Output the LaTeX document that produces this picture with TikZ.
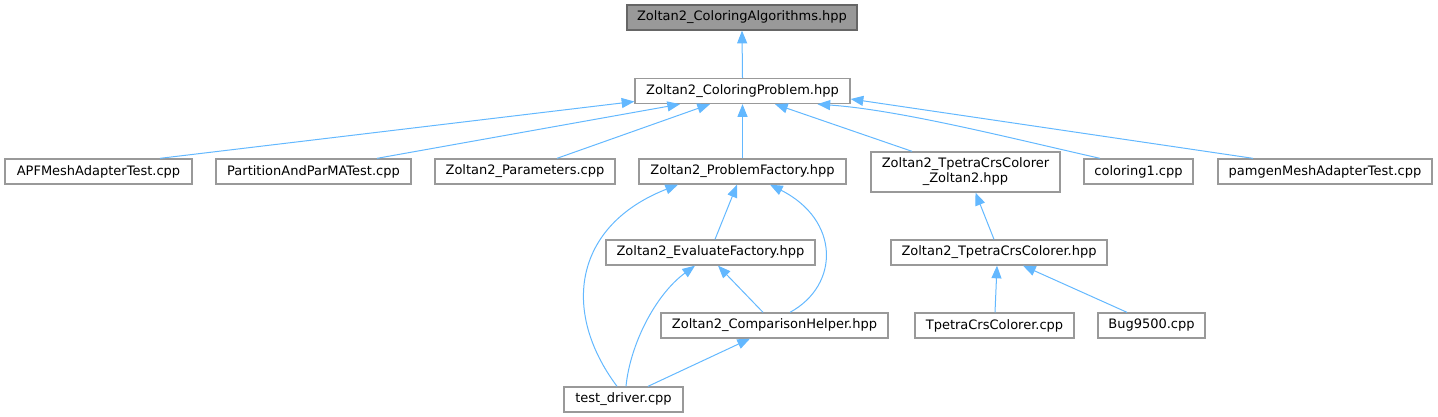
\documentclass[tikz,border=0pt]{standalone}
\usepackage{fontspec}
\setmainfont{DejaVu Sans}
\usepackage{tikz}
\usetikzlibrary{arrows.meta, calc}

\definecolor{edgeblue}{HTML}{63B8FF}
\definecolor{boxgray}{HTML}{999999}
\definecolor{topfill}{HTML}{999999}
\definecolor{topline}{HTML}{666666}

\begin{document}
\begin{tikzpicture}[x=0.75pt, y=-0.75pt,
  file/.style={draw=boxgray, line width=1pt, fill=white, inner sep=0pt,
    minimum height=25*0.75pt, align=center,
    font=\fontsize{9.75}{11.25}\selectfont},
  boxw/.style={minimum width=#1*0.75pt},
  boxh/.style={minimum height=#1*0.75pt},
  dep/.style={draw=edgeblue, line width=0.75pt, -{Triangle[length=9.5pt, width=7.5pt]}}]
\useasboundingbox (0,0) rectangle (1438,417);

% Header file at the top and the problem that includes it
\node[file, boxw=230, fill=topfill, draw=topline] (algo) at (742,17.5) {Zoltan2\_ColoringAlgorithms.hpp};
\node[file, boxw=215] (prob) at (742.5,91) {Zoltan2\_ColoringProblem.hpp};

% Second row
\node[file, boxw=187] (apf)    at (98.5,171.5)  {APFMeshAdapterTest.cpp};
\node[file, boxw=195] (part)   at (313.5,171.5) {PartitionAndParMATest.cpp};
\node[file, boxw=180] (param)  at (525,171.5)   {Zoltan2\_Parameters.cpp};
\node[file, boxw=207] (pfac)   at (742.5,171.5) {Zoltan2\_ProblemFactory.hpp};
\node[file, boxw=189, boxh=40] (tz2) at (965.5,172) {Zoltan2\_TpetraCrsColorer\\\_Zoltan2.hpp};
\node[file, boxw=109] (col1)   at (1138.5,171.5) {coloring1.cpp};
\node[file, boxw=214] (pamgen) at (1325,171.5)  {pamgenMeshAdapterTest.cpp};

% Lower rows
\node[file, boxw=209] (evf)   at (710.5,252.5) {Zoltan2\_EvaluateFactory.hpp};
\node[file, boxw=216] (tcc)   at (999,252.5)   {Zoltan2\_TpetraCrsColorer.hpp};
\node[file, boxw=227] (cmp)   at (774.5,325.5) {Zoltan2\_ComparisonHelper.hpp};
\node[file, boxw=159] (tccpp) at (994.5,325.5) {TpetraCrsColorer.cpp};
\node[file, boxw=107] (bug)   at (1151.5,325.5) {Bug9500.cpp};
\node[file, boxw=119] (tdrv)  at (623.5,399.5) {test\_driver.cpp};

% Include edges into the coloring problem
\draw[dep] (prob.north) -- (algo.south);
\draw[dep] ($(apf.north)+(61.5,0)$) -- ($(prob.west)+(0,10.5)$);
\draw[dep] ($(part.north)+(63.5,0)$) -- ($(prob.south)+(-62.5,0)$);
\draw[dep] ($(param.north)+(32,0)$) -- ($(prob.south)+(-32.5,0)$);
\draw[dep] (pfac.north) -- (prob.south);
\draw[dep] ($(tz2.north)+(-53.5,0)$) -- ($(prob.south)+(32.5,0)$);
\draw[dep] ($(col1.north)+(-38.5,0)$) .. controls (1010,138) and (900,110) .. ($(prob.south)+(75,0)$);
\draw[dep] ($(pamgen.north)+(-72,0)$) -- ($(prob.east)+(0,8)$);

% Factory, evaluation and comparison
\draw[dep] ($(evf.north)+(4.5,0)$) -- ($(pfac.south)+(-5.5,0)$);
\draw[dep] ($(tdrv.north)+(-6.5,0)$) .. controls (560,310) and (575,225) .. ($(pfac.south)+(-64.5,0)$);
\draw[dep] ($(cmp.north)+(15.5,0)$) .. controls (840,285) and (840,220) .. ($(pfac.south)+(27.5,0)$);
\draw[dep] ($(tdrv.north)+(2.5,0)$) .. controls (630,345) and (655,295) .. ($(evf.south)+(-15.5,0)$);
\draw[dep] ($(cmp.north)+(-11.5,0)$) -- ($(evf.south)+(7.5,0)$);
\draw[dep] ($(tdrv.north)+(24.5,0)$) -- ($(cmp.south)+(-24.5,0)$);

% Tpetra colorer branch
\draw[dep] ($(tcc.north)+(-5,0)$) -- ($(tz2.south)+(10,0)$);
\draw[dep] ($(tccpp.north)+(0.5,0)$) -- ($(tcc.south)+(-2,0)$);
\draw[dep] ($(bug.north)+(-24.5,0)$) -- ($(tcc.south)+(24,0)$);
\end{tikzpicture}
\end{document}
